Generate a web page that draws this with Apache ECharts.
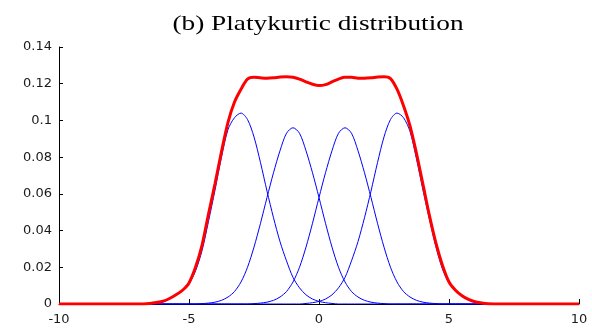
<!DOCTYPE html>
<html>
<head>
<meta charset="utf-8">
<script src="https://cdn.jsdelivr.net/npm/echarts@6/dist/echarts.min.js"></script>
<style>
  html, body { margin: 0; padding: 0; background: #ffffff; }
  #chart { width: 592px; height: 331px; }
</style>
</head>
<body>
<div id="chart"></div>
<script>
// Sample positions along x (denser where the curves bend)
const xValues = [
  -10, -9, -8, -7,
  -6.5, -6.25, -6, -5.75, -5.5, -5.25, -5, -4.75, -4.5, -4.25,
  -4, -3.75, -3.5, -3.25, -3, -2.75, -2.5, -2.25, -2, -1.75,
  -1.5, -1.25, -1, -0.75, -0.5, -0.25, 0, 0.25, 0.5, 0.75,
  1, 1.25, 1.5, 1.75, 2, 2.25, 2.5, 2.75, 3, 3.25,
  3.5, 3.75, 4, 4.25, 4.5, 4.75, 5, 5.25, 5.5, 5.75,
  6, 6.25, 6.5,
  7, 8, 9, 10];

// Overall platykurtic density (thick red curve)
const mixtureDensity = [
  0, 0, 0, 0,
  0.0003, 0.0008, 0.0015, 0.003, 0.005, 0.0075, 0.0115, 0.020, 0.032, 0.049,
  0.0655, 0.083, 0.099, 0.110, 0.117, 0.1225, 0.1235, 0.1232, 0.123, 0.1232,
  0.1236, 0.1238, 0.1235, 0.1225, 0.121, 0.1197, 0.119, 0.1195, 0.121, 0.1225,
  0.1235, 0.1235, 0.123, 0.123, 0.1232, 0.1236, 0.1238, 0.1228, 0.117, 0.108,
  0.097, 0.082, 0.065, 0.048, 0.033, 0.021, 0.012, 0.0075, 0.0045, 0.0025,
  0.0012, 0.0006, 0.0002,
  0, 0, 0, 0];

// Component densities (thin blue curves), centred near -3, -1, 1 and 3
const component1 = [
  0, 0, 0, 0,
  0.0003, 0.0007, 0.0014, 0.0028, 0.0048, 0.0072, 0.011, 0.018, 0.029, 0.045,
  0.062, 0.080, 0.095, 0.1015, 0.104, 0.1005, 0.091, 0.077, 0.0615, 0.047,
  0.034, 0.0235, 0.0145, 0.0088, 0.005, 0.0027, 0.0014, 0.0007, 0.0003, 0,
  0, 0, 0, 0, 0, 0, 0, 0, 0, 0,
  0, 0, 0, 0, 0, 0, 0, 0, 0, 0,
  0, 0, 0,
  0, 0, 0, 0];

const component2 = [
  0, 0, 0, 0,
  0, 0, 0, 0, 0, 0, 0, 0, 0.0002, 0.0005,
  0.001, 0.002, 0.0038, 0.0068, 0.012, 0.020, 0.031, 0.044, 0.058, 0.0715,
  0.0835, 0.093, 0.096, 0.093, 0.0835, 0.0715, 0.058, 0.044, 0.031, 0.020,
  0.012, 0.0068, 0.0038, 0.002, 0.001, 0.0005, 0.0002, 0, 0, 0,
  0, 0, 0, 0, 0, 0, 0, 0, 0, 0,
  0, 0, 0,
  0, 0, 0, 0];

const component3 = [
  0, 0, 0, 0,
  0, 0, 0, 0, 0, 0, 0, 0, 0, 0,
  0, 0, 0, 0, 0, 0, 0.0002, 0.0005, 0.001, 0.002,
  0.0038, 0.0068, 0.012, 0.020, 0.031, 0.044, 0.058, 0.0715, 0.0835, 0.093,
  0.096, 0.093, 0.0835, 0.0715, 0.058, 0.044, 0.031, 0.020, 0.012, 0.0068,
  0.0038, 0.002, 0.001, 0.0005, 0.0002, 0, 0, 0, 0, 0,
  0, 0, 0,
  0, 0, 0, 0];

const component4 = [
  0, 0, 0, 0,
  0, 0, 0, 0, 0, 0, 0, 0, 0, 0,
  0, 0, 0, 0, 0, 0, 0, 0, 0, 0,
  0, 0, 0, 0, 0.0003, 0.0007, 0.0014, 0.0027, 0.005, 0.0088,
  0.0145, 0.0235, 0.034, 0.047, 0.0615, 0.077, 0.091, 0.1005, 0.104, 0.1015,
  0.094, 0.079, 0.062, 0.046, 0.031, 0.019, 0.0115, 0.0072, 0.0045, 0.0025,
  0.0012, 0.0006, 0.0002,
  0, 0, 0, 0];

const xTicks = { min: -10, max: 10, interval: 5 };
const yTicks = { min: 0, max: 0.14, interval: 0.02 };
const titleText = '(b) Platykurtic distribution';

const pairs = (ys) => xValues.map((x, i) => [x, ys[i]]);

const blueLine = (name, ys) => ({
  name: name,
  type: 'line',
  data: pairs(ys),
  showSymbol: false,
  smooth: 0.3,
  z: 2,
  lineStyle: { color: '#0000ff', width: 1 }
});

const chart = echarts.init(document.getElementById('chart'), null, { renderer: 'canvas' });

chart.setOption({
  animation: false,
  backgroundColor: '#ffffff',
  graphic: [{
    type: 'text',
    x: 318,
    y: 24,
    scaleX: 1.3,
    style: {
      text: titleText,
      font: '21px "Liberation Serif", "Times New Roman", serif',
      fill: '#000000',
      textAlign: 'center',
      textVerticalAlign: 'middle'
    }
  }],
  grid: { left: 59, right: 13, top: 47, bottom: 27, containLabel: false },
  xAxis: {
    type: 'value',
    min: xTicks.min,
    max: xTicks.max,
    interval: xTicks.interval,
    axisLine: { show: true, onZero: false, lineStyle: { color: '#000000', width: 1 } },
    axisTick: { show: true, inside: true, length: 5, lineStyle: { color: '#000000' } },
    splitLine: { show: false },
    axisLabel: {
      margin: 9,
      color: '#1a1a1a',
      fontSize: 13,
      fontFamily: '"DejaVu Sans", sans-serif'
    }
  },
  yAxis: {
    type: 'value',
    min: yTicks.min,
    max: yTicks.max,
    interval: yTicks.interval,
    axisLine: { show: true, onZero: false, lineStyle: { color: '#000000', width: 1 } },
    axisTick: { show: true, inside: true, length: 4, lineStyle: { color: '#000000' } },
    splitLine: { show: false },
    axisLabel: {
      margin: 7,
      color: '#1a1a1a',
      fontSize: 13,
      fontFamily: '"DejaVu Sans", sans-serif'
    }
  },
  series: [
    blueLine('Component 1', component1),
    blueLine('Component 2', component2),
    blueLine('Component 3', component3),
    blueLine('Component 4', component4),
    {
      name: 'Mixture',
      type: 'line',
      data: pairs(mixtureDensity),
      showSymbol: false,
      smooth: 0.3,
      z: 3,
      lineStyle: { color: '#ff0000', width: 3 }
    }
  ]
});
</script>
</body>
</html>
